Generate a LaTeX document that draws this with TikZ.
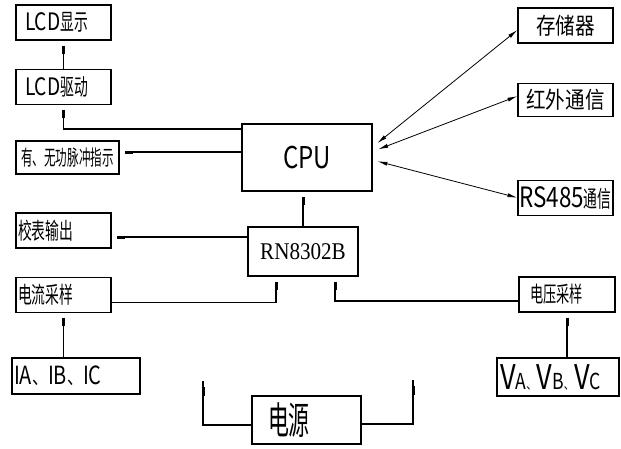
\documentclass[tikz,border=0pt]{standalone}
\usepackage{fontspec}
\setmainfont{Noto Sans CJK SC}
\newfontfamily\cjk[FakeStretch=0.6]{Noto Sans CJK SC}
\newfontfamily\cjkn[FakeStretch=0.55]{Noto Sans CJK SC}
\newfontfamily\cjkw[FakeStretch=0.85]{Noto Sans CJK SC}
\newfontfamily\latn[FakeStretch=0.8]{Noto Sans CJK SC}
\newfontfamily\serifn[FakeStretch=0.88]{Liberation Serif}
\newcommand\fs[1]{\fontsize{#1}{#1}\selectfont}
\usetikzlibrary{positioning}
\usetikzlibrary{arrows.meta,decorations.markings}

\begin{document}
\begin{tikzpicture}[x=1pt,y=-1pt]
\tikzset{box/.style={draw,line width=1.1pt,inner sep=0pt,
		minimum width=95pt,minimum height=35pt},
	link/.style={line width=1.1pt,-{Rectangle[length=8pt,width=3pt]},shorten >=5pt},
	bus/.style={line width=0.8pt,{Latex[length=10pt,width=4pt]}-{Latex[length=10pt,width=4pt]}},
	stub/.style={line width=1.1pt,postaction={decorate},decoration={markings,
		mark=at position 1 with {\fill (-15pt,-1.5pt) rectangle (-6pt,1.5pt);}}}}

\useasboundingbox (0,0) rectangle (621,448);

\node[box,align=left,inner xsep=9pt,text width=77pt,font=\cjk\fs{23}] (lcds) at (63.5,22.5) {{\latn\fs{24}LCD}显示};

\node[box,align=left,inner xsep=9pt,text width=77pt,font=\cjk\fs{23}] (lcdd) [below = 28pt of lcds] {{\latn\fs{24}LCD}驱动};

\node[box,minimum width=103pt,minimum height=33pt,font=\cjkn\fs{21}] (pulse) at (67.5,157.5) {有、无功脉冲指示};

\node[box,minimum width=130pt,minimum height=67pt,font=\latn\fs{30}] (cpu) at (307,157.5) {CPU};

\node[box,font=\cjkw\fs{23}] (mem) at (565.5,25.5) {存储器};

\node[box,minimum height=33pt,font=\cjkw\fs{23}] (ir) [below = 39pt of mem] {红外通信};

\node[box,font=\cjk\fs{23}] (rs) [below = 63pt of ir] {{\latn\fs{28}RS485}通信};

\node[box,align=left,inner xsep=2pt,text width=91pt,font=\cjk\fs{23}] (jb) at (63.5,230.5) {校表输出};

\node[box,minimum width=110pt,minimum height=49pt,font=\serifn\fs{24}] (rn) at (303,251.5) {RN8302B};

\node[box,align=left,inner xsep=2pt,text width=91pt,font=\cjk\fs{23}] (cs) [below = 28pt of jb] {电流采样};

\node[box,align=left,inner xsep=2pt,text width=124pt,minimum height=36pt,font=\latn\fs{25}] (ia) at (76,376) {IA{\fs{20}、}IB{\fs{20}、}IC};

\node[box,align=left,inner xsep=11pt,text width=74pt,font=\cjk\fs{22}] (vs) at (567,294.5) {电压采样};

\node[box,align=left,inner xsep=3pt,text width=116pt,minimum height=38pt,font=\latn\fs{34}] (va) at (558,377) {V{\fs{22}A\fs{13}、}V{\fs{22}B\fs{13}、}V{\fs{22}C}};

\node[box,align=left,inner xsep=16pt,text width=77pt,minimum height=48pt,font=\cjkn\fs{38}] (pw) at (306.5,420) {电源};

\coordinate (pwl) at (203,381);
\coordinate (pwr) at (413,380);

\draw[link] (lcdd.north) -- (lcds.south);
\draw[link] ([yshift=28.5pt]cpu.west) -| (lcdd.south);
\draw[link] ([yshift=5.5pt]cpu.west) -- ([yshift=5.5pt]pulse.east);
\draw[link] (rn.north) -- (rn.north |- cpu.south);

\draw[bus,shorten <=6pt] ([yshift=10.5pt]cpu.east) -- ([yshift=-4.5pt]mem.west);
\draw[bus,shorten <=6pt] ([yshift=6pt]cpu.east) -- ([yshift=3.5pt]ir.west);
\draw[bus,shorten <=5pt] ([yshift=-2.5pt]cpu.east) -- (rs.west);

\draw[link] ([yshift=14.5pt]rn.west) -- ([yshift=-6.5pt]jb.east);
\draw[link] ([yshift=-7.5pt]cs.east) -| ([xshift=-27pt]rn.south);
\draw[link] ([yshift=-6.5pt]vs.west) -| ([xshift=32pt]rn.south);
\draw[link] (cs.south |- ia.north) -- (cs.south);
\draw[link] (vs.south |- va.north) -- (vs.south);

\draw[stub] ([yshift=-5pt]pw.west) -| (pwl);
\draw[stub] ([yshift=-4pt]pw.east) -| (pwr);
\end{tikzpicture}
\end{document}
